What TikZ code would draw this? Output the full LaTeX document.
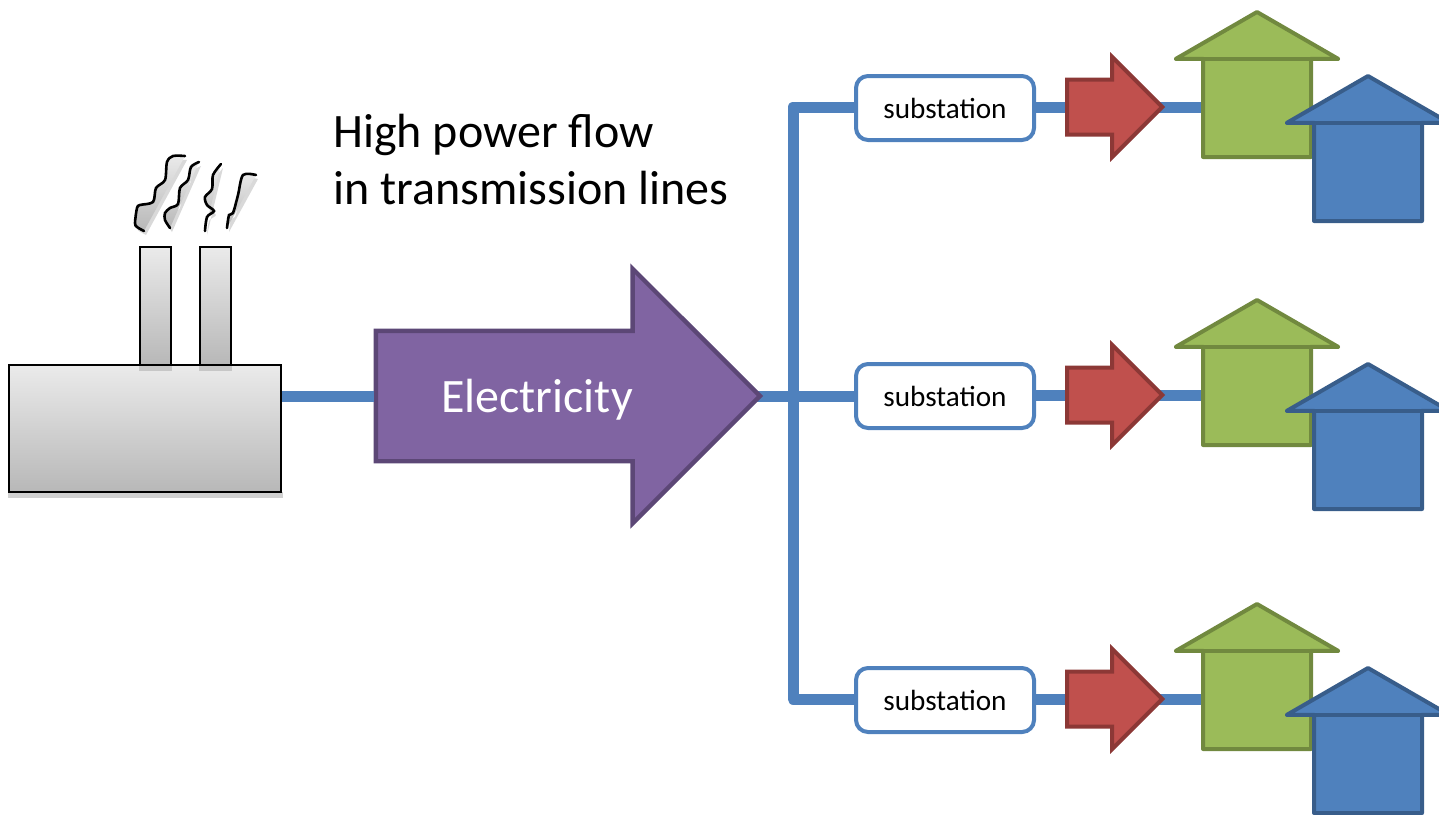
\documentclass[tikz,border=0pt]{standalone}
\usepackage{fontspec}
\setmainfont{Carlito}
\usetikzlibrary{shapes,arrows,positioning,calc,backgrounds}

\definecolor{wireblue}{HTML}{4F81BD}
\definecolor{wireedge}{HTML}{385D8A}
\definecolor{elecfill}{HTML}{8064A2}
\definecolor{elecedge}{HTML}{5C4776}
\definecolor{redfill}{HTML}{C0504D}
\definecolor{rededge}{HTML}{8C3836}
\definecolor{greenfill}{HTML}{9BBB59}
\definecolor{greenedge}{HTML}{71893F}

\tikzset{
    wire/.style={line width=5.5pt, wireblue, line join=round},
    grayshade/.style={top color=black!8, bottom color=black!28},
    plantbox/.style={draw=black, line width=1.3pt, grayshade, rectangle, inner sep=0pt},
    subbox/.style={draw=wireblue, line width=2pt, fill=white, rectangle, rounded corners=6pt,
        minimum width=89pt, minimum height=32pt, font=\fontsize{14.6}{16}\selectfont, inner sep=0pt},
    pointer/.style={single arrow, single arrow tip angle=90, inner xsep=0pt, anchor=tip},
    redpointer/.style={pointer, draw=rededge, fill=redfill, line width=2pt, inner ysep=12.75pt,
        minimum height=47.5pt, minimum width=48pt, single arrow head extend=11.25pt},
    hut/.style={single arrow, shape border rotate=90, single arrow tip angle=120, inner sep=26pt, outer sep=0pt,
        anchor=tip, line width=2pt, line join=round, minimum height=72.5pt, minimum width=79pt,
        single arrow head extend=13.5pt},
    roofline/.style={line width=2pt, line cap=round},
    smoke/.style={line width=1.3pt, line cap=round},
}

\begin{document}
\begin{tikzpicture}[x=0.5pt, y=-0.5pt]
    \useasboundingbox (0,0) rectangle (1439,814);
    \clip (0,0) rectangle (1439,814);

    % Plant
    \fill[black!18] (8,492) rectangle (283,498);
    \fill[black!18] (139,247) rectangle (172,371);
    \fill[black!18] (199,247) rectangle (232,371);
    \node[plantbox, minimum width=15.5pt, minimum height=59pt] (stackA) at (155.5,306) {};
    \node[plantbox, minimum width=15.5pt, minimum height=59pt] (stackB) at (215.5,306) {};
    \node[plantbox, minimum width=136pt, minimum height=63.5pt] (plant) at (145,428.5) {};
    \fill[black!22] (139,366) rectangle (172,371);
    \fill[black!22] (199,366) rectangle (232,371);

    % Smoke
    \foreach \puff in {
        {(144,231)(137,227)(135,223)(137,208)(140,205)(153,202)(156,188)(165,180)(167,162)(173,156)(185,156)},
        {(170,228)(165,220)(165,213)(170,208)(178,204)(180,188)(188,180)(191,167)(199,162)},
        {(205,231)(207,217)(214,211)(207,205)(205,197)(212,189)(213,175)(221,164)},
        {(227,228)(229,215)(233,213)(238,195)(243,175)(256,175)}} {
        \fill[black!15, xshift=1pt, yshift=-2pt] plot[smooth, tension=0.5] coordinates {\puff} -- cycle;
        \shade[grayshade] plot[smooth, tension=0.5] coordinates {\puff} -- cycle;
        \draw[smoke] plot[smooth, tension=0.5] coordinates {\puff};
    }

    % Text
    \node[anchor=north west, align=left, inner sep=0pt, font=\fontsize{24}{28.5}\selectfont] (flowtext) at (333,114)
        {High power flow\\in transmission lines};

    % Main arrow
    \node[pointer, draw=elecedge, fill=elecfill, line width=2.2pt, inner ysep=31.5pt, minimum height=192pt,
        minimum width=125pt, single arrow head extend=31pt] (bigarrow) at (763,396) {};
    \node[white, font=\fontsize{24}{28}\selectfont, inner sep=0pt] (electext) at (537,400) {Electricity};
    \draw[wire] (plant.east |- bigarrow.tail) -- (bigarrow.tail);

    % Branches
    \foreach \row/\ypos/\yoff in {1/107/0, 2/395/288, 3/699/592} {
        \node[subbox] (sub\row) at (945,\ypos+1) {substation};
        \node[redpointer] (red\row) at (1165,\ypos) {};
        \node[hut, draw=greenedge, fill=greenfill] (green\row) at (1257,12+\yoff) {};
        \draw[roofline, greenedge] (green\row.before tip) -- (green\row.after tip);
        \node[hut, draw=wireedge, fill=wireblue] (blue\row) at (1368,76+\yoff) {};
        \draw[roofline, wireedge] (blue\row.before tip) -- (blue\row.after tip);
        \begin{scope}[on background layer]
            \draw[wire] (sub\row.east |- red\row.tip) -- (red\row.tail);
            \draw[wire] (red\row.center |- red\row.tip) -- (green\row.center |- red\row.tip);
        \end{scope}
    }

    % Trunk
    \coordinate (trunktop) at (793,107);
    \coordinate (trunkbot) at (793,699);
    \begin{scope}[on background layer]
        \draw[wire] (sub1.west |- trunktop) -- (trunktop) -- (trunkbot) -- (sub3.west |- trunkbot);
        \draw[wire] (bigarrow.center |- bigarrow.tip) -- (sub2.west |- bigarrow.tip);
    \end{scope}
\end{tikzpicture}
\end{document}
